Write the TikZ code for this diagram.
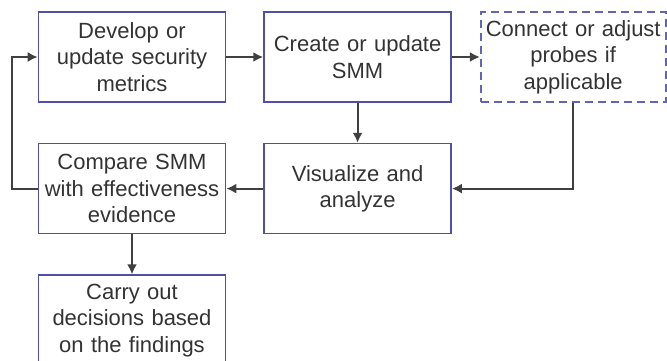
\documentclass[tikz,border=0pt]{standalone}
\usepackage{fontspec}
\setmainfont{Liberation Sans}
\usepackage{tikz}
\usetikzlibrary{positioning,arrows.meta}

\definecolor{boxblue}{RGB}{80,80,166}
\definecolor{probeblue}{RGB}{100,100,180}
\definecolor{textgray}{RGB}{51,51,51}
\definecolor{linegray}{RGB}{64,64,64}

\begin{document}
\begin{tikzpicture}[->,>={Latex[length=10pt,width=10pt]},x=1pt,y=1pt,line width=2pt]
  \tikzstyle{every node}=[font=\fontsize{22}{26.5}\selectfont,text=textgray]
  \tikzstyle{stepbox}=[draw=boxblue,line width=1.6pt,minimum width=187pt,
                       minimum height=90pt,text width=185pt,inner sep=0pt,align=center]
  \tikzstyle{probebox}=[stepbox,draw=probeblue,dashed,dash pattern=on 8pt off 5pt,
                        minimum width=185pt,text width=183pt]
  \useasboundingbox (0,0) rectangle (667,-361);

  \node[stepbox]  (develop) at (132,-57)          {Develop or\\update security\\metrics};
  \node[stepbox]  (create)    [right=37pt of develop] {Create or update\\SMM};
  \node[probebox] (probes)    [right=28pt of create]  {Connect or adjust\\probes if\\applicable};
  \node[stepbox]  (visualize) [below=40pt of create]  {Visualize and\\analyze};
  \node[stepbox]  (compare)   [below=40pt of develop] {Compare SMM\\with effectiveness\\evidence};
  \node[stepbox]  (carry)     [below=40pt of compare] {Carry out\\decisions based\\on the findings};
  \coordinate (loop) at (12,-57);

  \draw[linegray] (develop) -- (create);
  \draw[linegray] (create) -- (probes);
  \draw[linegray] (create) -- (visualize);
  \draw[linegray] (probes.south) |- (visualize.east);
  \draw[linegray] (visualize) -- (compare);
  \draw[linegray] (compare) -- (carry);
  \draw[linegray] (compare.west) -| (loop) -- (develop.west);
\end{tikzpicture}
\end{document}
